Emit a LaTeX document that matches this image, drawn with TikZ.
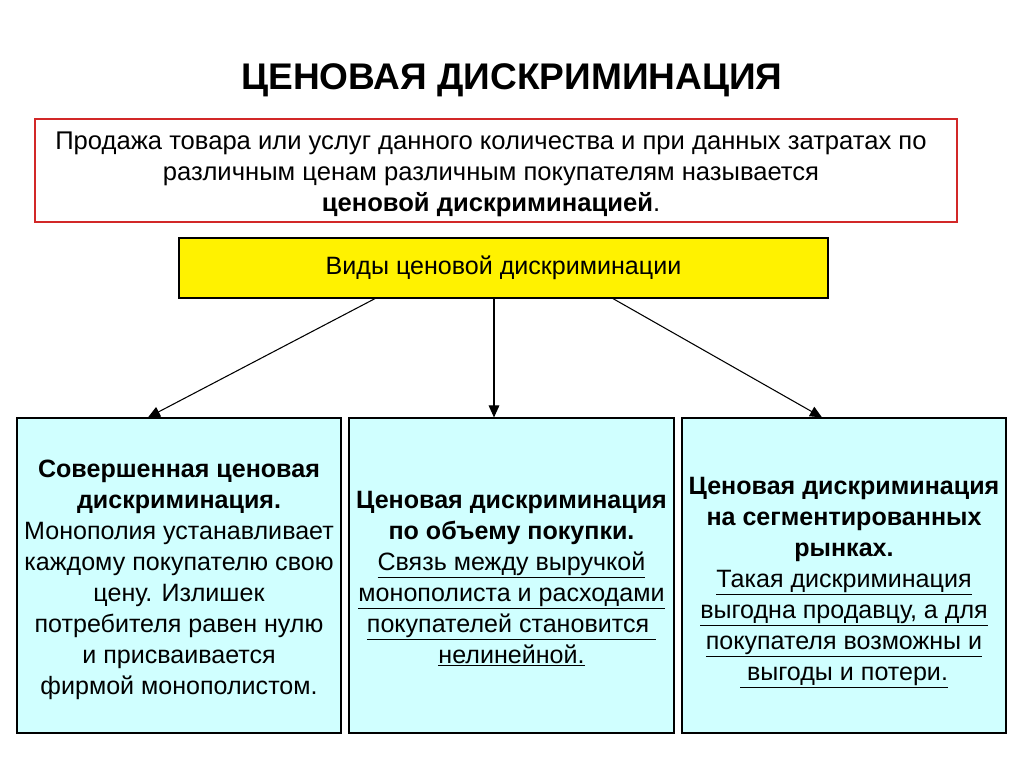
\documentclass[tikz,border=0pt]{standalone}
\usepackage{fontspec}
\setmainfont{Liberation Sans}
\usetikzlibrary{arrows.meta}
\definecolor{lcyan}{RGB}{208,255,255}
\begin{document}
\begin{tikzpicture}[x=0.75pt,y=-0.75pt,
  bx/.style={draw=black,line width=0.9pt,fill=lcyan},
  ln/.style={anchor=base,font=\fontsize{18.8}{20}\selectfont},
  lb/.style={anchor=base,font=\fontsize{18.8}{20}\bfseries\selectfont},
  arr/.style={-{Triangle[length=9pt,width=8pt]},line width=0.8pt}]
\useasboundingbox (0,0) rectangle (1024,768);
\node[font=\fontsize{27.8}{30}\bfseries\selectfont,anchor=base] (title) at (512,89) {ЦЕНОВАЯ ДИСКРИМИНАЦИЯ};
\draw[draw={rgb,255:red,210;green,40;blue,40},line width=0.9pt] (35,119) rectangle (957,222);
\node[ln,font=\fontsize{19.2}{20}\selectfont] (d1) at (491,149) {Продажа товара или услуг данного количества и при данных затратах по};
\node[ln,font=\fontsize{19.2}{20}\selectfont] (d2) at (491,180) {различным ценам различным покупателям называется};
\node[ln,font=\fontsize{19.2}{20}\selectfont] (d3) at (491,211) {\textbf{ценовой дискриминацией}.};
\node[draw=black,line width=0.9pt,fill=yellow,minimum width=649*0.75pt,minimum height=60*0.75pt,font=\fontsize{18.8}{20}\selectfont] (types) at (503.5,268) {Виды ценовой дискриминации};
\node[bx,minimum width=324*0.75pt,minimum height=315*0.75pt] (b1) at (179,575.5) {};
\node[bx,minimum width=325*0.75pt,minimum height=315*0.75pt] (b2) at (511.5,575.5) {};
\node[bx,minimum width=324*0.75pt,minimum height=315*0.75pt] (b3) at (844,575.5) {};
\draw[arr] (types.south -| 375,0) -- (b1.north -| 148,0);
\draw[arr] (types.south -| 494,0) -- (b2.north -| 494,0);
\draw[arr] (types.south -| 613,0) -- (b3.north -| 822,0);
% box 1
\node[lb] (a1) at (179,477) {Совершенная ценовая};
\node[lb] (a2) at (179,508) {дискриминация.};
\node[ln] (a3) at (179,539) {Монополия устанавливает};
\node[ln] (a4) at (179,570) {каждому покупателю свою};
\node[ln] (a5) at (179,601) {цену. Излишек};
\node[ln] (a6) at (179,632) {потребителя равен нулю};
\node[ln] (a7) at (179,663) {и присваивается};
\node[ln] (a8) at (179,694) {фирмой монополистом.};
% box 2
\node[lb] (c1) at (511.5,508) {Ценовая дискриминация};
\node[lb] (c2) at (511.5,539) {по объему покупки.};
\node[ln] (c3) at (511.5,570) {\underline{Связь между выручкой}};
\node[ln] (c4) at (511.5,601) {\underline{монополиста и расходами}};
\node[ln] (c5) at (511.5,632) {\underline{покупателей становится }};
\node[ln] (c6) at (511.5,663) {\underline{нелинейной.}};
% box 3
\node[lb] (e1) at (844,494) {Ценовая дискриминация};
\node[lb] (e2) at (844,525) {на сегментированных};
\node[lb] (e3) at (844,556) {рынках.};
\node[ln] (e4) at (844,587) {\underline{Такая дискриминация}};
\node[ln] (e5) at (844,618) {\underline{выгодна продавцу, а для}};
\node[ln] (e6) at (844,649) {\underline{покупателя возможны и}};
\node[ln] (e7) at (844,680) {\underline{ выгоды и потери.}};
\end{tikzpicture}
\end{document}
